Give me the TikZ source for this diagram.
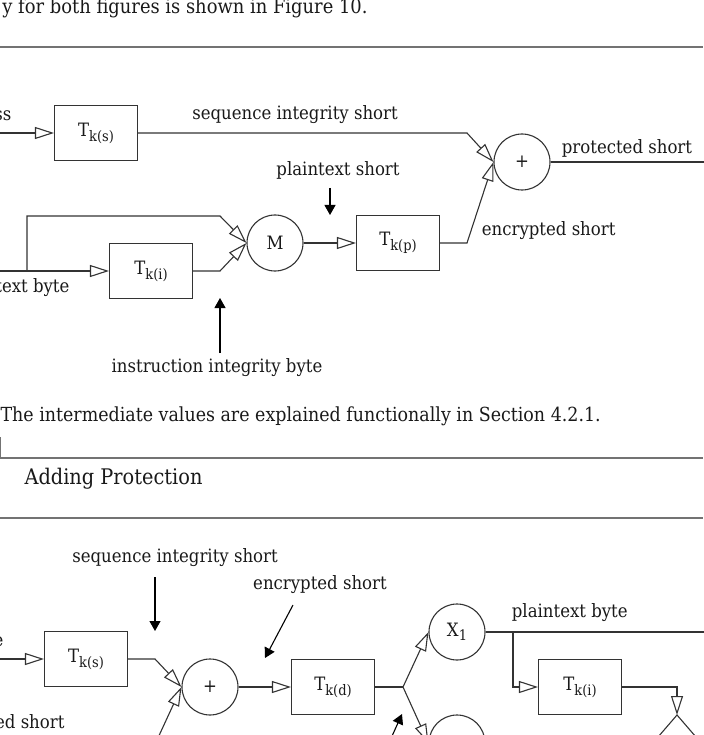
\documentclass[tikz,border=0pt]{standalone}
\usepackage{fontspec}
\setmainfont{DejaVu Serif Condensed}
\usetikzlibrary{arrows.meta,positioning}

\newcommand{\keyT}[1]{T\raisebox{-5pt}{\fontsize{14.5}{15}\selectfont #1}}

\begin{document}
\begin{tikzpicture}[x=1pt,y=-1pt,>={Triangle[open,length=19pt,width=12pt]},
  line width=1.1pt,draw=black!80,
  every node/.style={font=\fontsize{18.4}{21}\selectfont,text=black!90},
  key box/.style={draw,rectangle,minimum width=83pt,minimum height=55pt,inner sep=0pt},
  op node/.style={draw,circle,minimum size=56pt,inner sep=0pt},
  hint/.style={-{Triangle[length=10pt,width=11pt]},draw=black},
  page rule/.style={draw=black!55,line width=1.6pt}]

  \useasboundingbox (0,0) rectangle (703,735);

  % surrounding page
  \node[anchor=base east,inner sep=0pt,font=\fontsize{19.9}{23}\selectfont] (prev) at (368,14) {y for both figures is shown in Figure 10.};
  \draw[page rule] (0,47) -- (703,47);
  \node[anchor=base west,inner sep=0pt,font=\fontsize{19.4}{22}\selectfont] (caption) at (0,421) {The intermediate values are explained functionally in Section 4.2.1.};
  \draw[draw=black!55,line width=0.8pt] (0.5,437) -- (0.5,458);
  \draw[page rule] (0,458) -- (703,458);
  \node[anchor=base west,inner sep=0pt,font=\fontsize{21.5}{24}\selectfont] (title) at (24,484) {Adding Protection};
  \draw[page rule] (0,518) -- (703,518);

  % first figure
  \node[key box] (ks) at (96,133) {\keyT{k(s)}};
  \node[op node] (plus) at (522,162) {+};
  \node[op node] (mix) at (275,243) {M};
  \node[key box] (kp) at (398,243) {\keyT{k(p)}};
  \node[key box] (ki) at (151,271) {\keyT{k(i)}};

  \coordinate (in a) at (-3,133);
  \coordinate (in b) at (-3,271);
  \coordinate (out a) at (706,162);
  \coordinate (bend a) at (467,133);
  \coordinate (bend b) at (467,243);
  \coordinate (tap a) at (27,271);
  \coordinate (bend c) at (220,216);
  \coordinate (bend d) at (220,271);
  \coordinate (pt tip) at (330,215);
  \coordinate (pt tail) at (330,188);
  \coordinate (ii tip) at (220,298);
  \coordinate (ii tail) at (220,353);

  \node[anchor=base east,inner sep=0pt] (frag a) at (12,121) {ss};
  \node[anchor=base east,inner sep=0pt] (frag b) at (70,292) {text byte};
  \node (seq lbl) at (295,115) {sequence integrity short};
  \node[anchor=west] (prot lbl) at (558,148) {protected short};
  \node[anchor=west] (enc lbl) at (478,231) {encrypted short};
  \node (pt lbl) at (338,170) {plaintext short};
  \node (ii lbl) at (217,368) {instruction integrity byte};

  \path[->] (in a) edge (ks)
            (mix) edge (kp)
            (in b) edge (ki);
  \draw[->] (ks) -- (bend a) -- (plus.west);
  \draw[->] (kp) -- (bend b) -- (plus.west);
  \draw (plus) -- (out a);
  \draw[->] (tap a) |- (bend c) -- (mix.west);
  \draw[->] (ki) -- (bend d) -- (mix.west);
  \draw[hint] (pt tail) -- (pt tip);
  \draw[hint] (ii tail) -- (ii tip);

  % second figure
  \node[key box] (ks2) at (86,659) {\keyT{k(s)}};
  \node[op node] (plus2) at (210,687) {+};
  \node[key box] (kd) at (333,687) {\keyT{k(d)}};
  \node[op node] (x1) at (457,632) {X\raisebox{-4pt}{\fontsize{14.5}{15}\selectfont 1}};
  \node[op node] (x2) at (457,743) {};
  \node[key box] (ki2) at (580,687) {\keyT{k(i)}};

  \coordinate (in c) at (-3,659);
  \coordinate (in d) at (157,740);
  \coordinate (bend e) at (155,659);
  \coordinate (fork) at (403,687);
  \coordinate (tap b) at (513,632);
  \coordinate (out b) at (706,632);
  \coordinate (meet) at (677,715);
  \coordinate (leg l) at (652,744);
  \coordinate (leg r) at (702,744);
  \coordinate (seq tip) at (155,631);
  \coordinate (seq tail) at (155,577);
  \coordinate (enc tip) at (265,658);
  \coordinate (enc tail) at (293,605);
  \coordinate (low tip) at (402,714);
  \coordinate (low tail) at (388,745);

  \node[anchor=base east,inner sep=0pt] (frag c) at (4,646) {e};
  \node[anchor=base east,inner sep=0pt] (frag d) at (65,728) {ed short};
  \node (seq2 lbl) at (175,558) {sequence integrity short};
  \node (enc2 lbl) at (320,585) {encrypted short};
  \node[anchor=west] (pt2 lbl) at (508,613) {plaintext byte};

  \path[->] (in c) edge (ks2)
            (plus2) edge (kd)
            (in d) edge (plus2.west);
  \draw[->] (ks2) -- (bend e) -- (plus2.west);
  \draw (kd) -- (fork);
  \draw[->] (fork) -- (x1.west);
  \draw[->] (fork) -- (x2.west);
  \draw (x1) -- (out b);
  \draw[->] (tap b) |- (ki2);
  \draw[->] (ki2) -| (meet);
  \draw (leg l) -- (meet) -- (leg r);
  \draw[hint] (seq tail) -- (seq tip);
  \draw[hint] (enc tail) -- (enc tip);
  \draw[hint] (low tail) -- (low tip);
\end{tikzpicture}
\end{document}
